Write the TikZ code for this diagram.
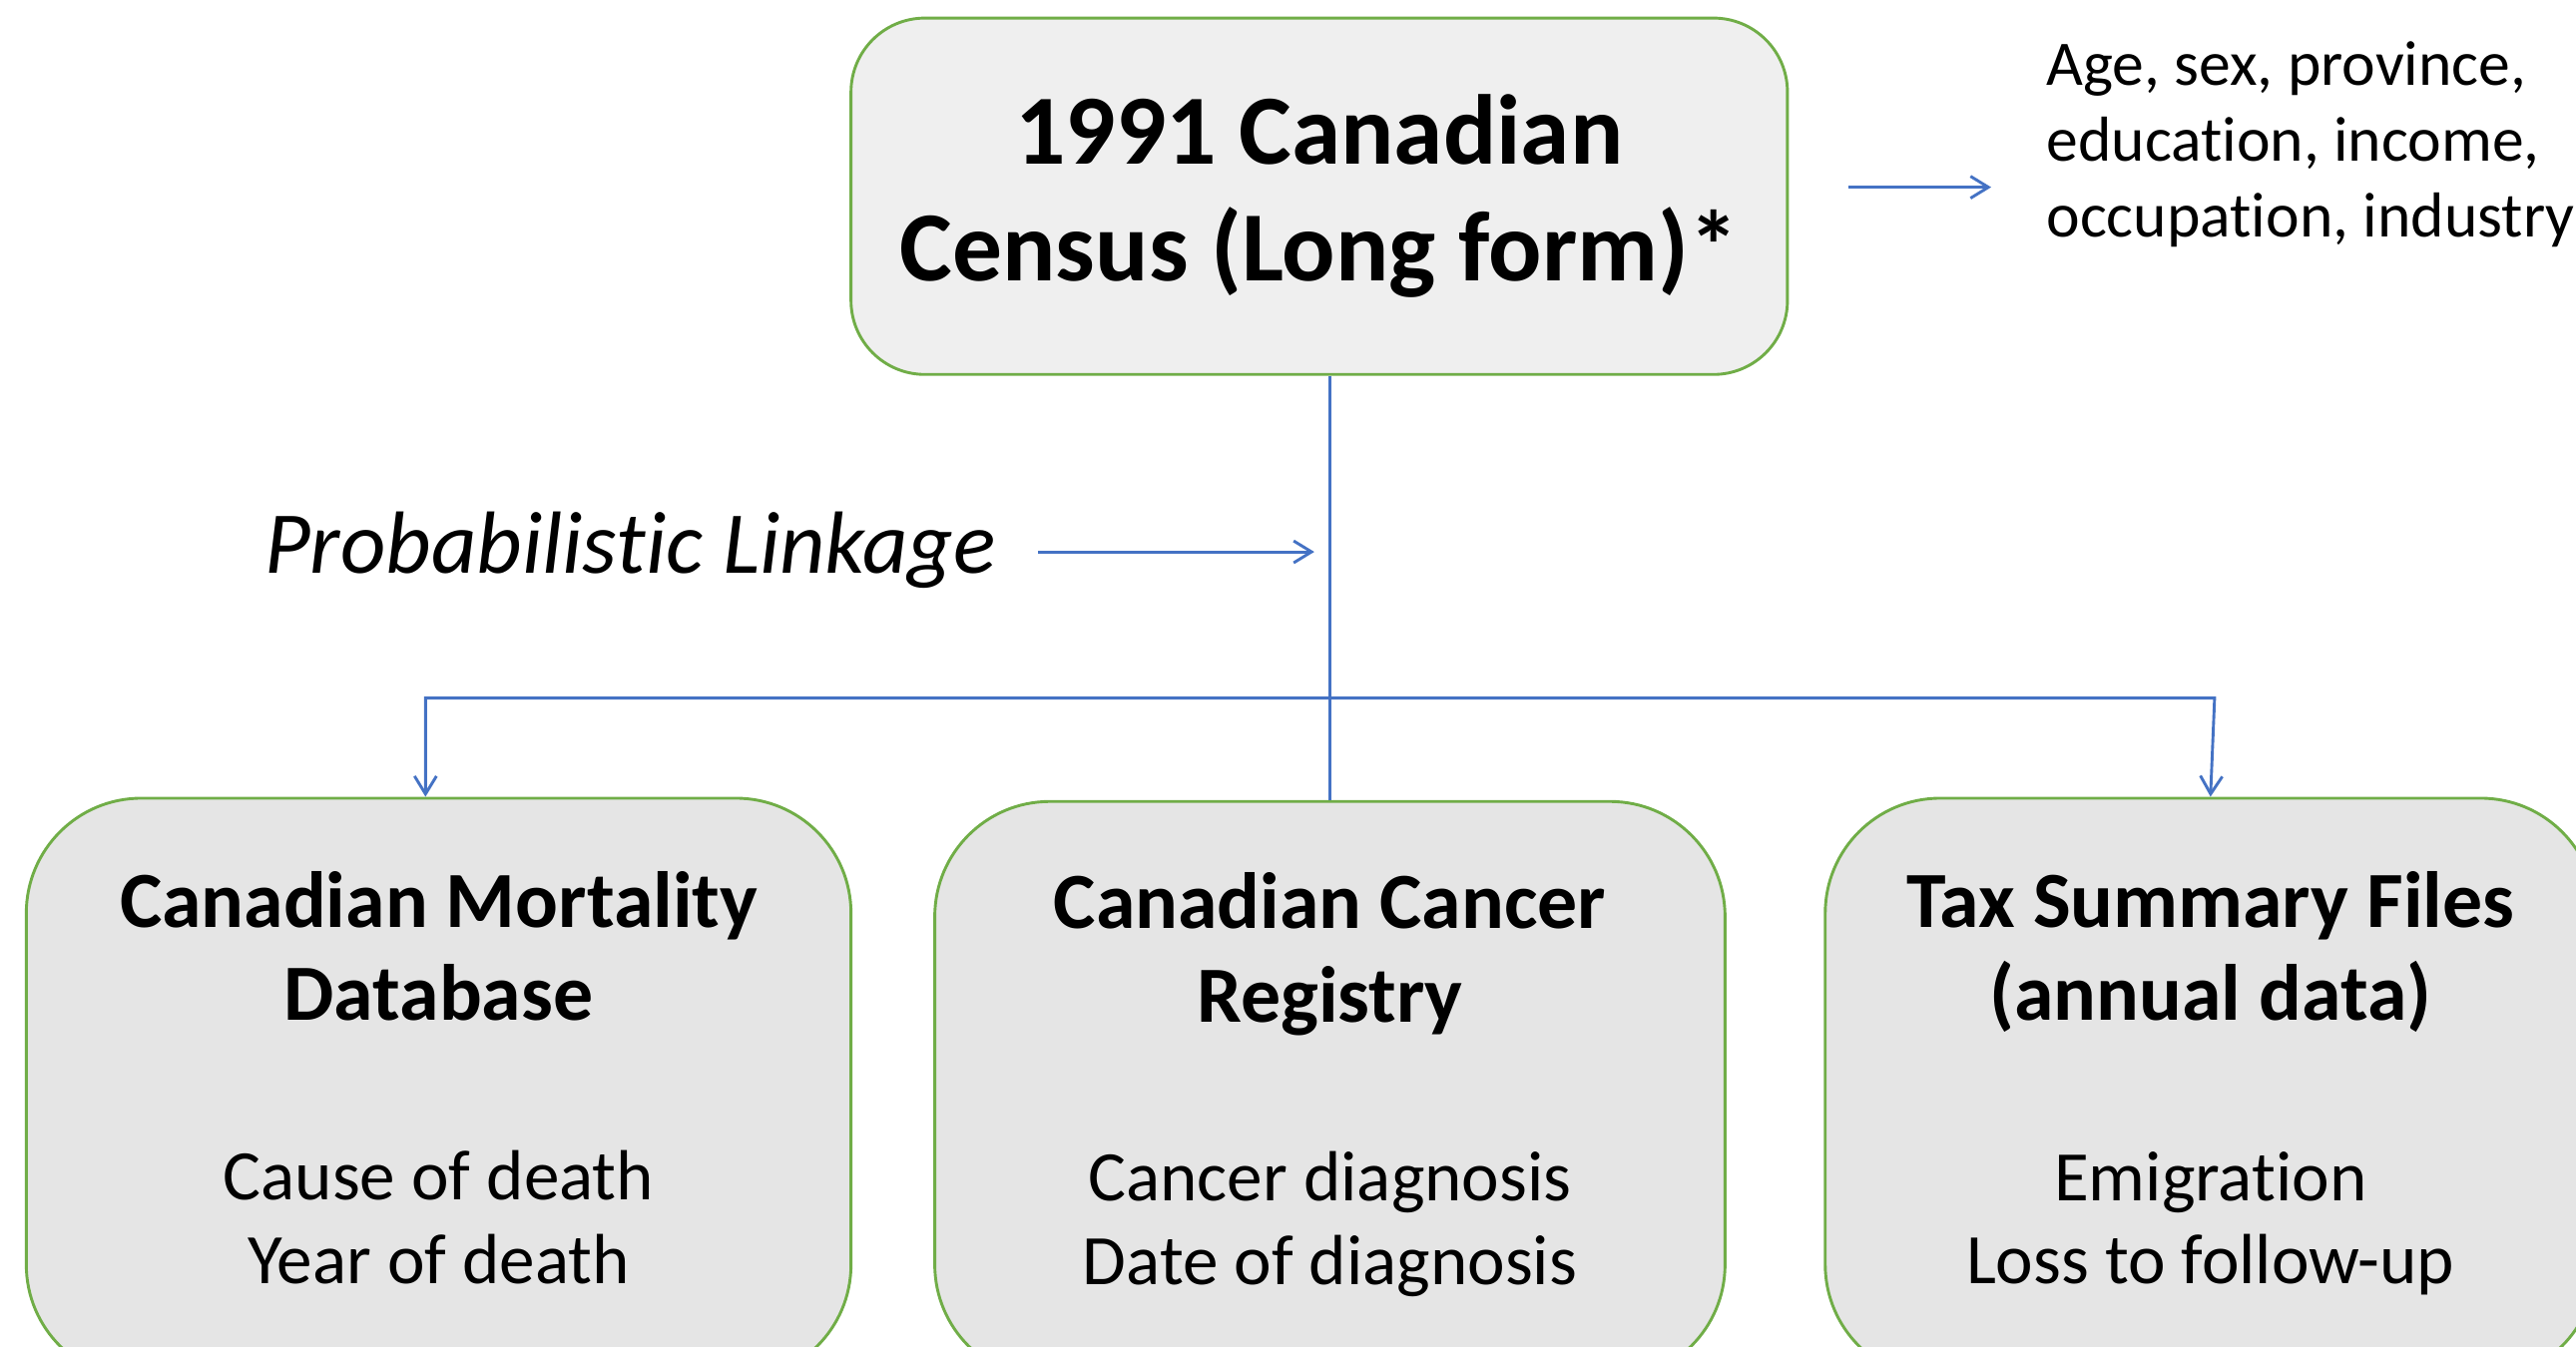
\documentclass[tikz,border=0pt]{standalone}
\usepackage{fontspec}
\setmainfont[Ligatures=NoCommon]{Carlito}
\usetikzlibrary{arrows.meta, calc, positioning}
\definecolor{boxgreen}{HTML}{70AD47}
\definecolor{linkblue}{HTML}{4472C4}
\definecolor{topgray}{HTML}{EFEFEF}
\definecolor{botgray}{HTML}{E5E5E5}

\begin{document}
\begin{tikzpicture}[
        box/.style={draw=boxgreen, line width=0.5pt, fill=botgray, rounded corners=0.7cm},
        link/.style={draw=linkblue, line width=0.5pt},
        tip/.style={-{Straight Barb[length=3.1pt, width=3.8pt]}},
        boxtitle/.style={align=center, font=\bfseries\fontsize{13.8}{16.2}\selectfont},
        boxsub/.style={align=center, font=\fontsize{12.3}{14.5}\selectfont}
    ]
        \useasboundingbox (0,0) rectangle (15.68,-8.2);

        % census box and what it gives
        \node[box, fill=topgray, rounded corners=0.45cm, minimum width=5.7cm, minimum height=2.17cm,
            align=center, font=\bfseries\fontsize{17.2}{20.2}\selectfont] (census) at (8.03,-1.195)
            {1991 Canadian\\Census (Long form)*};
        \node[anchor=west, align=left, inner sep=0pt, font=\fontsize{11}{13.1}\selectfont] (attrs) at (12.45,-0.88)
            {Age, sex, province,\\education, income,\\occupation, industry};
        \coordinate (aout) at (11.25,-1.14);
        \coordinate (ain) at (12.12,-1.14);
        \draw[link, tip] (aout) -- (ain);

        % linked files
        \node[box, minimum width=5.02cm, minimum height=3.54cm] (cmdb) at (2.67,-6.63) {};
        \node[box, minimum width=4.81cm, minimum height=3.52cm] (ccr) at (8.095,-6.64) {};
        \node[box, minimum width=4.69cm, minimum height=3.54cm] (tsf) at (13.455,-6.63) {};

        \node[boxtitle] (cmdbtitle) at ($(cmdb.north)+(0,-0.965)$) {\strut Canadian Mortality\\Database\strut};
        \node[boxsub] (cmdbsub) at ($(cmdb.north)+(0,-2.605)$) {\strut Cause of death\\Year of death\strut};
        \node[boxtitle] (ccrtitle) at ($(ccr.north)+(0,-0.955)$) {\strut Canadian Cancer\\Registry\strut};
        \node[boxsub] (ccrsub) at ($(ccr.north)+(0,-2.595)$) {\strut Cancer diagnosis\\Date of diagnosis\strut};
        \node[boxtitle] (tsftitle) at ($(tsf.north)+(0,-0.965)$) {\strut Tax Summary Files\\(annual data)\strut};
        \node[boxsub] (tsfsub) at ($(tsf.north)+(0,-2.61)$) {\strut Emigration\\Loss to follow-up\strut};

        % linkage
        \draw[link] (census.south -| ccr.north) -- (ccr.north);
        \coordinate (lsplit) at (2.59,-4.25);
        \coordinate (rsplit) at (13.48,-4.25);
        \draw[link, {Straight Barb[length=3.1pt, width=3.8pt]}-{Straight Barb[length=3.1pt, width=3.8pt]}]
            (lsplit |- cmdb.north) -- (lsplit) -- (rsplit) -- (tsf.north);

        \node[anchor=east, inner sep=0pt, font=\itshape\fontsize{15.3}{18}\selectfont] (linkage) at (6.07,-3.35)
            {Probabilistic Linkage};
        \coordinate (hit) at (8.00,-3.36);
        \draw[link, tip] ([xshift=0.25cm, yshift=-0.01cm]linkage.east) -- (hit);
    \end{tikzpicture}
\end{document}
